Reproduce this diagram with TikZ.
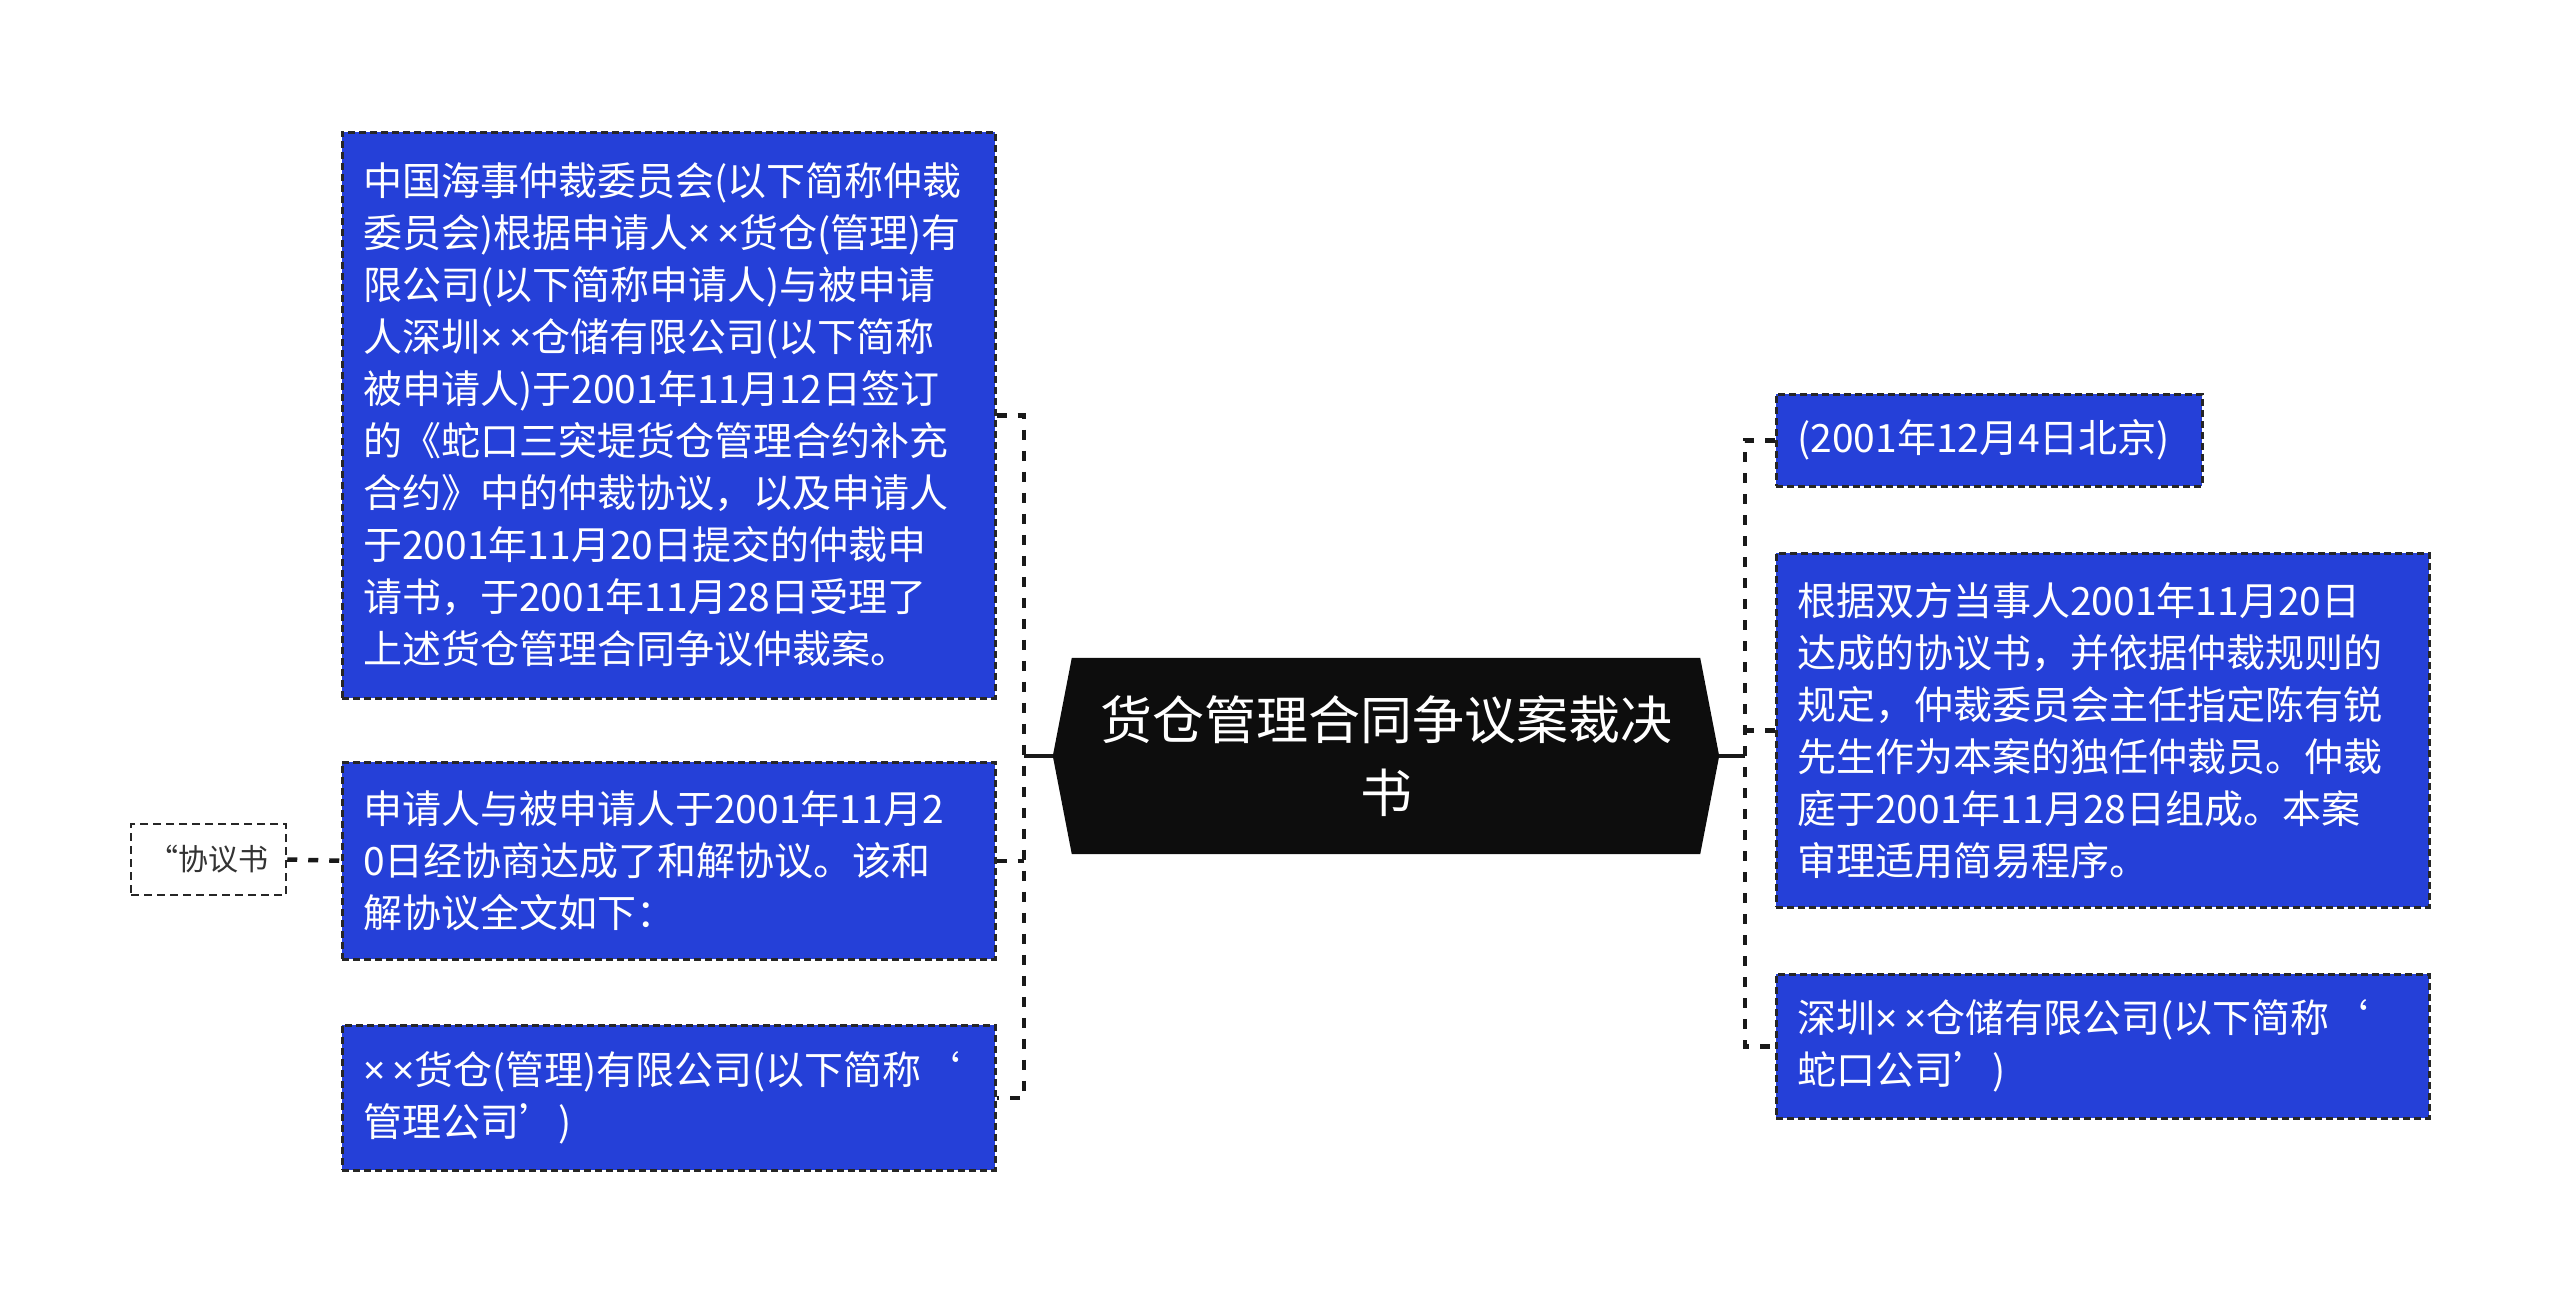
\documentclass[tikz,border=0pt]{standalone}
\usepackage{fontspec}
\setmainfont{Noto Sans CJK SC}
\newfontfamily\latinf{Noto Sans}
\newcommand{\xx}{{\latinf ×\,×}}
\usetikzlibrary{backgrounds}
\definecolor{boxblue}{RGB}{37,64,216}
\definecolor{hexblack}{RGB}{13,13,13}
\begin{document}
\begin{tikzpicture}[x=1pt,y=-1pt,
  bluebox/.style={draw=black!85, dash pattern=on 7pt off 4pt, line width=2.5pt, fill=boxblue, text=white,
    font=\fontsize{39}{52}\selectfont, align=left, inner sep=0pt, anchor=north west},
  link/.style={draw=black!90, line width=4.5pt, dash pattern=on 10pt off 11pt},
  stemline/.style={draw=black!90, line width=4.5pt},
  notebox/.style={draw=black!85, dash pattern=on 8pt off 5pt, line width=2.5pt, fill=white, text=black!80,
    font=\fontsize{30}{36}\selectfont, inner sep=0pt, minimum width=155pt, minimum height=71pt}]
\useasboundingbox (0,0) rectangle (2560,1302);

% central node
\node[font=\fontsize{52}{73}\selectfont, text=white, align=center, text width=640pt,
      minimum width=666pt, minimum height=196pt, inner sep=0pt] (c) at (1386,756)
  {货仓管理合同争议案裁决\\书};
\begin{scope}[on background layer]
\fill[hexblack] (c.west) -- ([xshift=19pt]c.north west) -- ([xshift=-19pt]c.north east) -- (c.east)
  -- ([xshift=-19pt]c.south east) -- ([xshift=19pt]c.south west) -- cycle;
\end{scope}

% left nodes
\node[bluebox, minimum width=653pt, minimum height=566pt, text width=611pt] (n1) at (341,131)
{中国海事仲裁委员会(以下简称仲裁\\委员会)根据申请人\xx 货仓(管理)有\\限公司(以下简称申请人)与被申请\\人深圳\xx 仓储有限公司(以下简称\\被申请人)于2001年11月12日签订\\的《蛇口三突堤货仓管理合约补充\\合约》中的仲裁协议，以及申请人\\于2001年11月20日提交的仲裁申\\请书，于2001年11月28日受理了\\上述货仓管理合同争议仲裁案。};

\node[bluebox, minimum width=653pt, minimum height=197pt, text width=611pt] (n2) at (341,761)
{申请人与被申请人于2001年11月2\\0日经协商达成了和解协议。该和\\解协议全文如下：};

\node[bluebox, minimum width=653pt, minimum height=145pt, text width=611pt] (n3) at (341,1024)
{\xx 货仓(管理)有限公司(以下简称‘\\管理公司’)};

\node[notebox] (p) at (208.5,859.5) {“协议书};

% right nodes
\node[bluebox, minimum width=426pt, minimum height=92pt, text width=384pt] (r1) at (1775,393)
{(2001年12月4日北京)};

\node[bluebox, minimum width=653pt, minimum height=354pt, text width=611pt] (r2) at (1775,552)
{根据双方当事人2001年11月20日\\达成的协议书，并依据仲裁规则的\\规定，仲裁委员会主任指定陈有锐\\先生作为本案的独任仲裁员。仲裁\\庭于2001年11月28日组成。本案\\审理适用简易程序。};

\node[bluebox, minimum width=653pt, minimum height=144pt, text width=611pt] (r3) at (1775,973)
{深圳\xx 仓储有限公司(以下简称‘\\蛇口公司’)};

% connectors
\coordinate (ls) at (1024,756);
\coordinate (rs) at (1745,756);
\draw[stemline] (c.west) -- (ls);
\draw[stemline] (c.east) -- (rs);
\draw[link] (n1.east) -- (n1.east -| ls) -- (n3.east -| ls) -- (n3.east);
\draw[link] (n2.east) -- (n2.east -| ls);
\draw[link] (r1.west) -- (r1.west -| rs) -- (r3.west -| rs) -- (r3.west);
\draw[link] (r2.west) -- (r2.west -| rs);
\draw[link] (p.east) -- (n2.west);
\end{tikzpicture}
\end{document}
